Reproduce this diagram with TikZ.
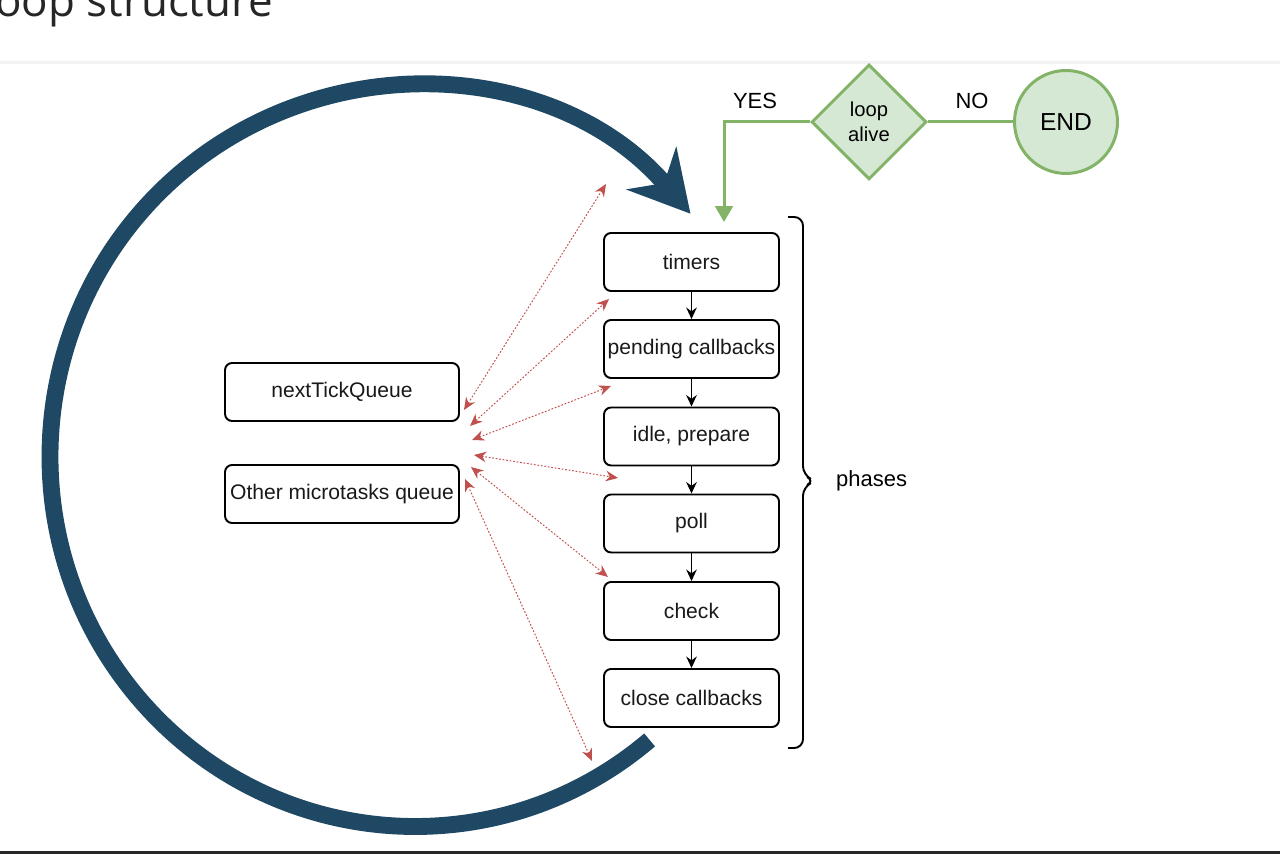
\documentclass[tikz,border=0pt]{standalone}
\usepackage{fontspec}
\setmainfont{Liberation Sans}
\newfontfamily\titlefont{Open Sans}
\usetikzlibrary{arrows.meta,shapes.geometric}

\definecolor{loopblue}{HTML}{1E4863}
\definecolor{okgreen}{HTML}{82B366}
\definecolor{okfill}{HTML}{D5E8D4}
\definecolor{tickred}{HTML}{C0504D}

\tikzset{
  phase/.style={draw, rounded corners=4pt, line width=1.1pt, minimum width=3.5cm,
    minimum height=1.16cm, inner sep=0pt, text=black!90, font=\fontsize{12}{14}\selectfont},
  queue/.style={phase, minimum width=4.68cm},
  nextarrow/.style={-{Stealth[length=6.5pt,width=6pt]}, line width=0.9pt},
  microarrow/.style={{Stealth[length=7pt,width=6pt]}-{Stealth[length=7pt,width=6pt]},
    tickred, dash pattern=on 1pt off 1pt, line width=0.55pt},
  greenline/.style={okgreen, line width=1.7pt},
  greenshape/.style={draw=okgreen, fill=okfill, line width=1.7pt, inner sep=0pt},
}

\begin{document}
\begin{tikzpicture}[x=0.02cm, y=0.02cm]

        % picture frame, 1280 x 854
        \useasboundingbox (0,0) rectangle (1280,854);
        \clip (0,0) rectangle (1280,854);

        % slide heading and rules
        \node[anchor=base west, font=\titlefont\fontsize{25}{30}\selectfont, text=black!85] (title) at (-22,837) {loop structure};
        \draw[black!5, line width=1.7pt] (0,791) -- (1280,791);
        \draw[black!85, line width=1.4pt] (0,1.5) -- (1280,1.5);

        % the big loop arrow
        \coordinate (hub) at (415,397.5);
        \draw[loopblue, line width=9.6pt, -{Stealth[length=34pt,width=37pt,inset=11pt]}]
            (hub) ++(-50:365 and 370) arc[start angle=-50, end angle=-319, x radius=365, y radius=370];

        % the phases
        \node[phase] (timers) at (691.5,592) {timers};
        \node[phase] (pending) at (691.5,505) {pending callbacks};
        \node[phase] (idle) at (691.5,417.5) {idle, prepare};
        \node[phase] (poll) at (691.5,330.5) {poll};
        \node[phase] (check) at (691.5,243) {check};
        \node[phase] (close) at (691.5,156) {close callbacks};

        \draw[nextarrow] (timers) -- (pending);
        \draw[nextarrow] (pending) -- (idle);
        \draw[nextarrow] (idle) -- (poll);
        \draw[nextarrow] (poll) -- (check);
        \draw[nextarrow] (check) -- (close);

        % brace round the phases
        \draw[line width=1.1pt, rounded corners=5pt] (788,637) -- (803,637) -- (803,379) -- (815,373) -- (803,367) -- (803,106) -- (788,106);
        \node[anchor=west, font=\fontsize{12.5}{14}\selectfont] (phaselbl) at (830,373) {phases};

        % the queues
        \node[queue] (ticks) at (342,462) {nextTickQueue};
        \node[queue] (micro) at (342,360) {Other microtasks queue};

        % queues are run between the phases
        \coordinate (q1) at (464,444);  \coordinate (s1) at (606,670);
        \coordinate (q2) at (470,428);  \coordinate (s2) at (609,555);
        \coordinate (q3) at (472,414);  \coordinate (s3) at (611,468);
        \coordinate (q4) at (474,399);  \coordinate (s4) at (618,376);
        \coordinate (q5) at (471,387);  \coordinate (s5) at (608,277);
        \coordinate (q6) at (465,375);  \coordinate (s6) at (592,93);
        \draw[microarrow] (q1) -- (s1);
        \draw[microarrow] (q2) -- (s2);
        \draw[microarrow] (q3) -- (s3);
        \draw[microarrow] (q4) -- (s4);
        \draw[microarrow] (q5) -- (s5);
        \draw[microarrow] (q6) -- (s6);

        % loop alive check
        \node[diamond, greenshape, minimum width=2.3cm, minimum height=2.3cm, align=center,
            font=\fontsize{11.5}{14}\selectfont] (alive) at (869,732) {loop\\alive};
        \node[circle, greenshape, minimum size=2.06cm, font=\fontsize{14}{16}\selectfont] (finish) at (1066,732) {END};
        \coordinate (yesdrop) at (724,632);
        \draw[greenline] (alive) -- (finish);
        \draw[greenline, -{Triangle[length=9pt,width=10pt]}] (alive.west) -| (yesdrop);
        \node[font=\fontsize{12.5}{15}\selectfont] (yes) at (755,753) {YES};
        \node[font=\fontsize{12.5}{15}\selectfont] (no) at (972,753) {NO};

\end{tikzpicture}
\end{document}
